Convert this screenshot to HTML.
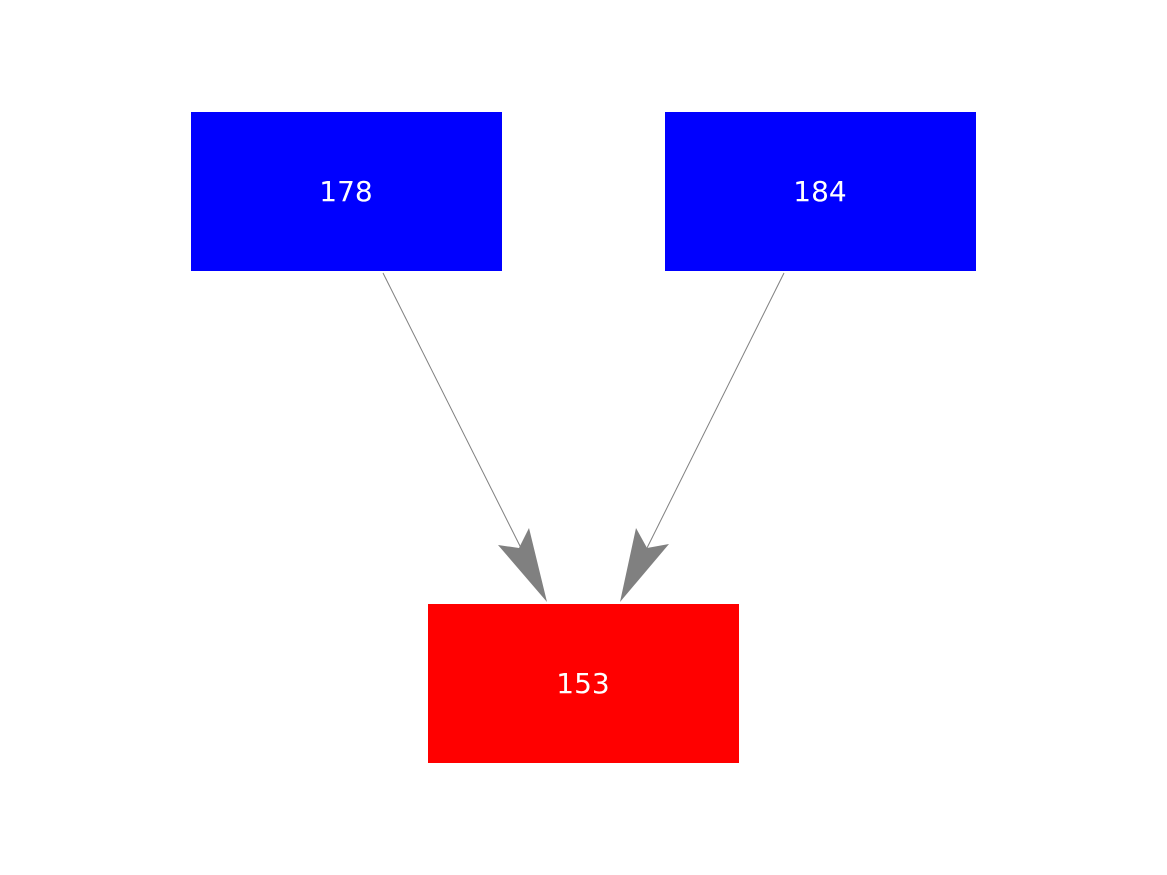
<!DOCTYPE html>
<html><head><style>html,body{margin:0;padding:0;background:#fff;}</style></head>
<body>
<svg width="1167" height="875" xmlns="http://www.w3.org/2000/svg" style="display:block">
<rect x="191" y="112" width="311" height="159" fill="#0000ff"/>
<rect x="665" y="112" width="311" height="159" fill="#0000ff"/>
<rect x="428" y="604" width="311" height="159" fill="#ff0000"/>
<g font-family="DejaVu Sans, sans-serif" font-size="28" fill="#fff" text-anchor="middle">
<text x="346" y="201">178</text>
<text x="820" y="201">184</text>
<text x="583" y="693">153</text>
</g>
<line x1="383" y1="273" x2="521" y2="548" stroke="#808080" stroke-width="1"/>
<line x1="784" y1="273" x2="647" y2="548" stroke="#808080" stroke-width="1"/>
<polygon points="547,602 498,545 519,548 529,528" fill="#808080"/>
<polygon points="620,602 636,528 647,548 669,544" fill="#808080"/>
</svg>
</body></html>
